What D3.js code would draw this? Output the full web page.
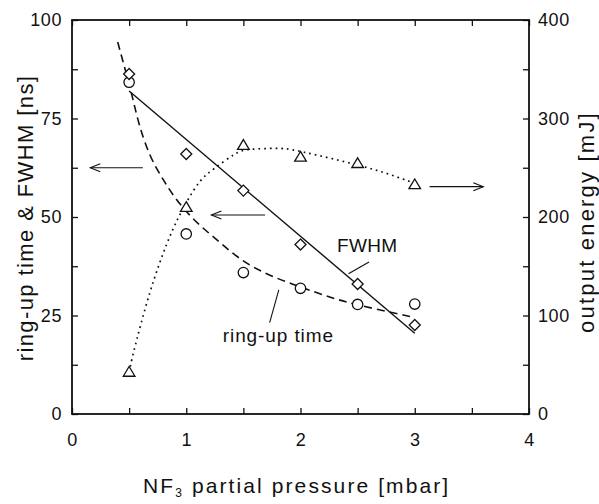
<!DOCTYPE html>
<html lang="en">
<head>
    <meta charset="UTF-8">
    <title>NF3 partial pressure</title>
    <script src="https://d3js.org/d3.v7.min.js"></script>
    <style>
        body { margin: 0; background: #fff; font-family: "Liberation Sans", Arial, sans-serif; }
        .axis text { font-size: 18px; fill: #111; letter-spacing: 0.6px; }
        .axis line { stroke: #111; stroke-width: 1.3; }
        .axis path { display: none; }
    </style>
</head>
<body>
    <svg width="599" height="504"></svg>
    <script>
        // measured points
        var pressure = [0.5, 1, 1.5, 2, 2.5, 3];
        var fwhm = [86.3, 66, 56.7, 43, 33, 22.6];
        var ringUp = [84.2, 45.7, 35.9, 31.9, 27.8, 27.9];
        var energy = [42.6, 210, 273, 261, 254.5, 233];

        // fit curves
        var fwhmFitX = [0.5, 3];
        var fwhmFitY = [82, 20.5];
        var ringFitX = [0.40, 0.45, 0.53, 0.58, 0.68, 0.80, 0.88, 1.06, 1.27, 1.47, 1.71, 2.0, 2.28, 2.49, 2.78, 2.98];
        var ringFitY = [94.4, 89.1, 80.5, 73.9, 65.2, 59.4, 55.6, 49.2, 44.2, 39.1, 35.3, 32.2, 29.4, 27.7, 25.9, 24.6];
        var energyFitX = [0.5, 0.52, 0.68, 0.84, 0.92, 1.01, 1.12, 1.23, 1.44, 1.53, 1.82, 1.91, 2.14, 2.43, 2.72, 2.98];
        var energyFitY = [42.6, 54.8, 126, 177, 197, 217, 238, 248, 266, 269, 270, 269, 263, 255, 246, 235];

        // ticks
        var xTicks = [0, 1, 2, 3, 4];
        var yTicks = [0, 25, 50, 75, 100];
        var eTicks = [0, 100, 200, 300, 400];

        var svg = d3.select("svg");
        var margin = { left: 72, right: 70, top: 20, bottom: 90 };
        var width = 599 - margin.left - margin.right,
            height = 504 - margin.top - margin.bottom;

        var g = svg.append("g").attr("transform", "translate(" + margin.left + "," + margin.top + ")");

        var x = d3.scaleLinear().domain([0, 4]).range([0, width]);
        var y = d3.scaleLinear().domain([0, 100]).range([height, 0]);
        var yE = d3.scaleLinear().domain([0, 400]).range([height, 0]);

        // axes, ticks point inward
        g.append("g").attr("class", "axis")
            .attr("transform", "translate(0," + height + ")")
            .call(d3.axisBottom(x).tickValues(d3.range(0, 4.01, 0.5)).tickSize(-6).tickFormat(""));
        g.append("g").attr("class", "axis")
            .attr("transform", "translate(0," + height + ")")
            .call(d3.axisBottom(x).tickValues(xTicks).tickSize(0).tickPadding(19).tickFormat(d3.format("d")));
        g.append("g").attr("class", "axis")
            .call(d3.axisTop(x).tickValues(d3.range(0, 4.01, 0.5)).tickSize(-6).tickFormat(""));
        g.append("g").attr("class", "axis")
            .call(d3.axisLeft(y).tickValues(d3.range(0, 100.1, 12.5)).tickSize(-6).tickFormat(""));
        g.append("g").attr("class", "axis")
            .call(d3.axisLeft(y).tickValues(yTicks).tickSize(0).tickPadding(10));
        g.append("g").attr("class", "axis")
            .attr("transform", "translate(" + width + ",0)")
            .call(d3.axisRight(yE).tickValues(d3.range(0, 400.1, 50)).tickSize(-6).tickFormat(""));
        g.append("g").attr("class", "axis")
            .attr("transform", "translate(" + width + ",0)")
            .call(d3.axisRight(yE).tickValues(eTicks).tickSize(0).tickPadding(9));

        g.append("rect")
            .attr("width", width).attr("height", height)
            .attr("fill", "none").attr("stroke", "#111").attr("stroke-width", 1.8);

        // fit curves
        var line = d3.line().curve(d3.curveBasis);

        g.append("path")
            .attr("d", line(fwhmFitX.map(function(d, i) { return [x(d), y(fwhmFitY[i])]; })))
            .attr("fill", "none").attr("stroke", "#111").attr("stroke-width", 1.4);

        g.append("path")
            .attr("d", line(ringFitX.map(function(d, i) { return [x(d), y(ringFitY[i])]; })))
            .attr("fill", "none").attr("stroke", "#111").attr("stroke-width", 1.6)
            .attr("stroke-dasharray", "8,5");

        g.append("path")
            .attr("d", line(energyFitX.map(function(d, i) { return [x(d), yE(energyFitY[i])]; })))
            .attr("fill", "none").attr("stroke", "#111").attr("stroke-width", 1.7)
            .attr("stroke-dasharray", "1.7,4");

        // markers
        var mk = g.append("g").attr("fill", "#fff").attr("stroke", "#111").attr("stroke-width", 1.3);

        mk.selectAll(".ring").data(pressure).enter().append("circle")
            .attr("cx", function(d) { return x(d); })
            .attr("cy", function(d, i) { return y(ringUp[i]); })
            .attr("r", 5.2);

        mk.selectAll(".fwhm").data(pressure).enter().append("path")
            .attr("transform", function(d, i) { return "translate(" + x(d) + "," + y(fwhm[i]) + ")"; })
            .attr("d", "M0,-5.5L5.5,0L0,5.5L-5.5,0Z");

        mk.selectAll(".energy").data(pressure).enter().append("path")
            .attr("transform", function(d, i) { return "translate(" + x(d) + "," + yE(energy[i]) + ")"; })
            .attr("d", "M0,-5.5L5.8,4.2L-5.8,4.2Z");

        // arrows pointing to the axis each curve belongs to
        function arrow(x1, x2, py) {
            var a = g.append("g").attr("stroke", "#111").attr("stroke-width", 1.1).attr("fill", "none");
            var dir = x2 > x1 ? -1 : 1;
            a.append("line").attr("x1", x(x1)).attr("x2", x(x2)).attr("y1", py).attr("y2", py);
            a.append("path").attr("d", "M" + (x(x2) + dir * 10) + "," + (py - 4) + "L" + x(x2) + "," + py + "L" + (x(x2) + dir * 10) + "," + (py + 4));
        }
        arrow(0.62, 0.16, y(62.5));
        arrow(1.69, 1.22, y(50.5));
        arrow(3.13, 3.6, yE(230.8));

        // curve labels with leader lines
        g.append("text").attr("x", x(2.32)).attr("y", y(41)).attr("font-size", 19)
            .attr("letter-spacing", 0.3).attr("fill", "#111").text("FWHM");
        g.append("line")
            .attr("x1", x(2.6)).attr("y1", y(38.6)).attr("x2", x(2.42)).attr("y2", y(35.6))
            .attr("stroke", "#111").attr("stroke-width", 1.1);
        g.append("text").attr("x", x(1.32)).attr("y", y(18.2)).attr("font-size", 19)
            .attr("letter-spacing", 0.9).attr("fill", "#111").text("ring-up time");
        g.append("line")
            .attr("x1", x(1.81)).attr("y1", y(31.5)).attr("x2", x(1.73)).attr("y2", y(23.2))
            .attr("stroke", "#111").attr("stroke-width", 1.1);

        // axis titles
        var xt = svg.append("text").attr("x", 143).attr("y", 493)
            .attr("font-size", 21).attr("letter-spacing", 2.1).attr("fill", "#111");
        xt.append("tspan").text("NF");
        xt.append("tspan").attr("font-size", 12).attr("dy", 4).text("3");
        xt.append("tspan").attr("dy", -4).text(" partial pressure [mbar]");

        svg.append("text")
            .attr("transform", "translate(33,218) rotate(-90)")
            .attr("text-anchor", "middle").attr("font-size", 22).attr("letter-spacing", 1.4).attr("fill", "#111")
            .text("ring-up time & FWHM [ns]");

        svg.append("text")
            .attr("transform", "translate(594,222) rotate(-90)")
            .attr("text-anchor", "middle").attr("font-size", 22).attr("letter-spacing", 2.2).attr("fill", "#111")
            .text("output energy [mJ]");
    </script>
</body>
</html>
